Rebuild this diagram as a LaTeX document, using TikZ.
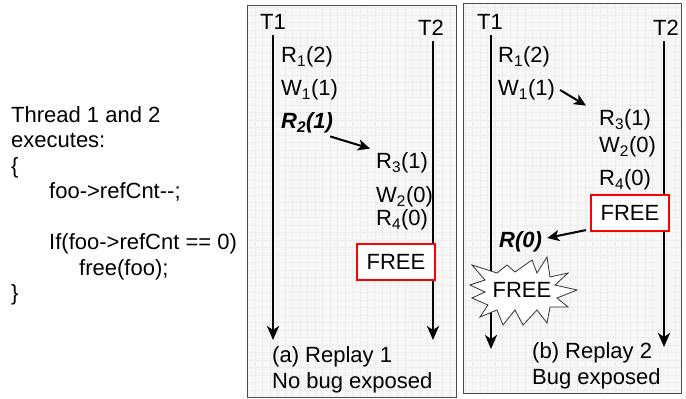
\documentclass[tikz,border=0pt]{standalone}
\usepackage{fontspec}
\setmainfont{Liberation Sans}
\usetikzlibrary{arrows.meta}

\tikzset{
  panel/.style={draw=black!70, line width=0.9pt, fill=black!3},
  thread/.style={line width=2.4pt, -{Stealth[length=14pt,width=12pt,inset=4pt]}},
  step label/.style={anchor=west, inner sep=1pt, font=\fontsize{22}{24}\selectfont},
  order/.style={line width=2pt, -{Stealth[length=12pt,width=11pt,inset=3pt]}},
  freebox/.style={draw=red, line width=2.2pt, fill=white, minimum width=78pt, minimum height=36pt, inner sep=0pt, font=\fontsize{22}{24}\selectfont},
}
\newcommand{\acc}[3]{#1\textsubscript{#2}(#3)}

\begin{document}
\begin{tikzpicture}[x=1pt,y=1pt,yscale=-1,xscale=1]
        \useasboundingbox (0,0) rectangle (686,399);
        % panels with faint grid
        \draw [panel] (247,5) rectangle (456,397);
        \draw [panel] (463,3) rectangle (681,393);
        \begin{scope}
            \clip (247,5) rectangle (456,397);
            \draw [black!7, line width=0.4pt, step=7.5] (247,5) grid (456,397);
        \end{scope}
        \begin{scope}
            \clip (463,3) rectangle (681,393);
            \draw [black!7, line width=0.4pt, step=7.5] (463,3) grid (681,393);
        \end{scope}
        \draw [black!70, line width=0.9pt] (247,5) rectangle (456,397);
        \draw [black!70, line width=0.9pt] (463,3) rectangle (681,393);

        % code on the left
        \node (code) [anchor=west, align=left, inner sep=0pt, font=\fontsize{22}{25.5}\selectfont] at (11,206)
            {Thread 1 and 2\\executes:\\\{\\\hspace*{38pt}foo->refCnt-{}-;\\[25.5pt]\hspace*{38pt}If(foo->refCnt == 0)\\\hspace*{68pt}free(foo);\\\}};

        % replay 1
        \node (t1a) [font=\fontsize{22}{24}\selectfont] at (273,22) {T1};
        \node (t2a) [font=\fontsize{22}{24}\selectfont] at (431,28) {T2};
        \coordinate (t1aend) at (273,340);
        \coordinate (t2aend) at (433,340);
        \draw [thread] (t1a.south) ++(0,2) -- (t1aend);
        \draw [thread] (t2a.south) ++(2,2) -- (t2aend);
        \node (r1a) [step label] at (280,57) {\acc{R}{1}{2}};
        \node (w1a) [step label] at (280,90) {\acc{W}{1}{1}};
        \node (r2a) [step label] at (280,123) {\textbf{\textit{\acc{R}{2}{1}}}};
        \node (r3a) [step label] at (375,163) {\acc{R}{3}{1}};
        \node (w2a) [step label] at (375,197) {\acc{W}{2}{0}};
        \node (r4a) [step label] at (375,220) {\acc{R}{4}{0}};
        \node (freea) [freebox] at (396,262) {FREE};
        \draw [order] ([xshift=-4pt,yshift=2pt]r2a.south east) -- ([xshift=-5pt,yshift=-3pt]r3a.north west);
        \node (capa) [anchor=west, align=left, inner sep=0pt, font=\fontsize{22}{26}\selectfont] at (272,370) {(a) Replay 1\\No bug exposed};

        % replay 2
        \node (t1b) [font=\fontsize{22}{24}\selectfont] at (490,22) {T1};
        \node (t2b) [font=\fontsize{22}{24}\selectfont] at (666,28) {T2};
        \coordinate (t1bend) at (491,349);
        \coordinate (t2bend) at (664,347);
        \draw [thread] (t1b.south) ++(1,2) -- (t1bend);
        \draw [thread] (t2b.south) ++(-2,2) -- (t2bend);
        \node (r1b) [step label] at (497,57) {\acc{R}{1}{2}};
        \node (w1b) [step label] at (497,90) {\acc{W}{1}{1}};
        \node (r3b) [step label] at (598,120) {\acc{R}{3}{1}};
        \node (w2b) [step label] at (598,147) {\acc{W}{2}{0}};
        \node (r4b) [step label] at (598,180) {\acc{R}{4}{0}};
        \node (freeb) [freebox] at (630,213) {FREE};
        \node (r0b) [step label] at (498,242) {\textbf{\textit{R(0)}}};
        % explosion around the second free
        \draw [draw=black!80, line width=0.8pt, fill=white, line join=miter]
            (472,265) -- (497,273) -- (507,265) -- (515,272) -- (532,260) -- (537,273)
            -- (547,257) -- (550,277) -- (568,273) -- (555,285) -- (577,290) -- (557,298)
            -- (568,307) -- (550,307) -- (547,323) -- (537,310) -- (523,325) -- (515,310)
            -- (503,325) -- (497,310) -- (480,317) -- (488,305) -- (472,298) -- (485,292)
            -- (470,285) -- (485,280) -- cycle;
        \node (burst) [inner sep=0pt, font=\fontsize{22}{24}\selectfont] at (522,290) {FREE};
        \draw [order] ([xshift=4pt]w1b.east) -- ([xshift=-12pt,yshift=-3pt]r3b.north west);
        \draw [order] ([xshift=-4pt,yshift=-2pt]freeb.south west) -- ([xshift=4pt,yshift=-4pt]r0b.east);
        \node (capb) [anchor=west, align=left, inner sep=0pt, font=\fontsize{22}{26}\selectfont] at (532,366) {(b) Replay 2\\Bug exposed};
\end{tikzpicture}
\end{document}
